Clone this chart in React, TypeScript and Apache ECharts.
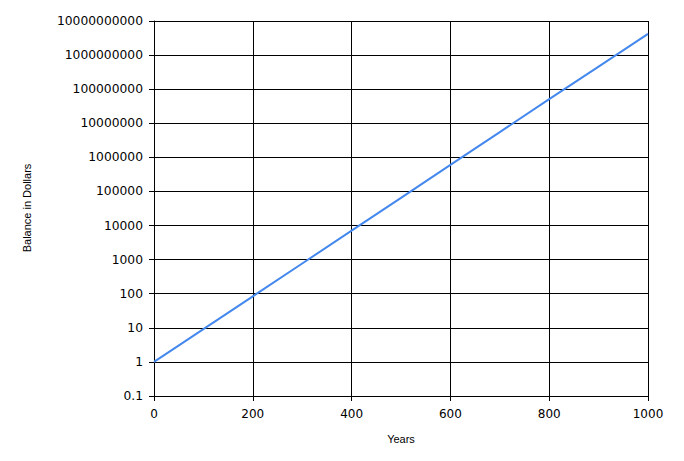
import React, { useEffect, useRef } from "react";
import * as echarts from "echarts";

const years = [0, 100, 200, 300, 400, 500, 600, 700, 800, 900, 1000];
const balance = [1, 9.2, 84, 770, 7100, 65000, 600000, 5500000, 51000000, 460000000, 4200000000];
const xTicks = [0, 200, 400, 600, 800, 1000];
const yAxisName = "Balance in Dollars";
const xAxisName = "Years";

export default function App() {
  const ref = useRef<HTMLDivElement>(null);
  useEffect(() => {
    if (!ref.current) return;
    const chart = echarts.init(ref.current, undefined, { renderer: "svg" });
    const labelFont = { fontFamily: "DejaVu Sans", fontSize: 12, color: "#000" };
    chart.setOption({
      animation: false,
      backgroundColor: "#fff",
      grid: { left: 154, right: 36, top: 21, bottom: 65, containLabel: false },
      xAxis: {
        type: "value",
        min: xTicks[0],
        max: xTicks[xTicks.length - 1],
        interval: 200,
        axisLine: { show: true, lineStyle: { color: "#000", width: 1 } },
        axisTick: { show: true, length: 5, lineStyle: { color: "#000" } },
        axisLabel: { ...labelFont, margin: 12, formatter: (v: number) => String(v) },
        splitLine: { show: true, lineStyle: { color: "#000", width: 1 } },
      },
      yAxis: {
        type: "log",
        logBase: 10,
        min: 0.1,
        max: 1e10,
        interval: 1,
        axisLine: { show: true, lineStyle: { color: "#000", width: 1 } },
        axisTick: { show: true, length: 5, lineStyle: { color: "#000" } },
        axisLabel: {
          ...labelFont,
          fontSize: 12.3,
          margin: 11,
          formatter: (v: number) => String(Number(v.toPrecision(1))),
        },
        splitLine: { show: true, lineStyle: { color: "#000", width: 1 } },
      },
      graphic: [
        {
          type: "text",
          x: 27,
          y: 208,
          rotation: Math.PI / 2,
          style: {
            text: yAxisName,
            fontFamily: "Liberation Sans",
            fontSize: 11,
            fill: "#000",
            align: "center",
            verticalAlign: "middle",
          },
        },
        {
          type: "text",
          x: 401,
          y: 439,
          style: {
            text: xAxisName,
            fontFamily: "Liberation Sans",
            fontSize: 11,
            fill: "#000",
            align: "center",
            verticalAlign: "middle",
          },
        },
      ],
      series: [
        {
          type: "line",
          data: years.map((y, i) => [y, balance[i]]),
          showSymbol: false,
          lineStyle: { color: "#4488ee", width: 2 },
          itemStyle: { color: "#4488ee" },
        },
      ],
    });
    return () => chart.dispose();
  }, []);
  return <div ref={ref} style={{ width: 684, height: 461, position: "absolute", left: 0, top: 0 }} />;
}
